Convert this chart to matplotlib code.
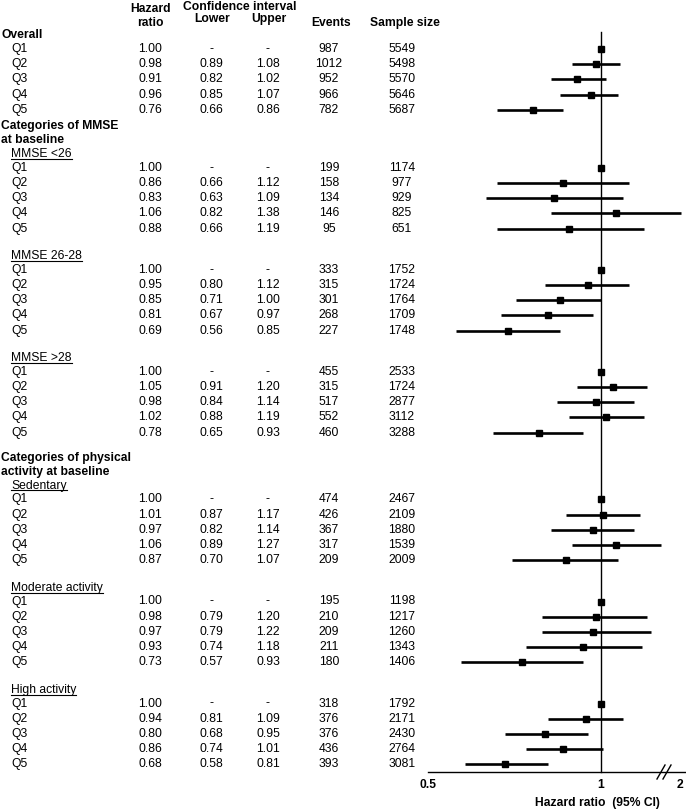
import matplotlib

matplotlib.use('Agg')
import matplotlib.pyplot as plt
import matplotlib.transforms as mtransforms

plt.rcParams['font.family'] = ['Liberation Sans', 'DejaVu Sans']
plt.rcParams['font.size'] = 8.7

# ---- data ----
quintiles = ['Q1', 'Q2', 'Q3', 'Q4', 'Q5']

group_names = ['Overall', 'MMSE <26', 'MMSE 26-28', 'MMSE >28',
               'Sedentary', 'Moderate activity', 'High activity']

section_titles = ['Overall',
                  'Categories of MMSE\nat baseline',
                  'Categories of physical\nactivity at baseline']
section_groups = [[0], [1, 2, 3], [4, 5, 6]]

hazard_ratio = [
    [1.00, 0.98, 0.91, 0.96, 0.76],
    [1.00, 0.86, 0.83, 1.06, 0.88],
    [1.00, 0.95, 0.85, 0.81, 0.69],
    [1.00, 1.05, 0.98, 1.02, 0.78],
    [1.00, 1.01, 0.97, 1.06, 0.87],
    [1.00, 0.98, 0.97, 0.93, 0.73],
    [1.00, 0.94, 0.80, 0.86, 0.68],
]
ci_lower = [
    [None, 0.89, 0.82, 0.85, 0.66],
    [None, 0.66, 0.63, 0.82, 0.66],
    [None, 0.80, 0.71, 0.67, 0.56],
    [None, 0.91, 0.84, 0.88, 0.65],
    [None, 0.87, 0.82, 0.89, 0.70],
    [None, 0.79, 0.79, 0.74, 0.57],
    [None, 0.81, 0.68, 0.74, 0.58],
]
ci_upper = [
    [None, 1.08, 1.02, 1.07, 0.86],
    [None, 1.12, 1.09, 1.38, 1.19],
    [None, 1.12, 1.00, 0.97, 0.85],
    [None, 1.20, 1.14, 1.19, 0.93],
    [None, 1.17, 1.14, 1.27, 1.07],
    [None, 1.20, 1.22, 1.18, 0.93],
    [None, 1.09, 0.95, 1.01, 0.81],
]
events = [
    [987, 1012, 952, 966, 782],
    [199, 158, 134, 146, 95],
    [333, 315, 301, 268, 227],
    [455, 315, 517, 552, 460],
    [474, 426, 367, 317, 209],
    [195, 210, 209, 211, 180],
    [318, 376, 376, 436, 393],
]
sample_size = [
    [5549, 5498, 5570, 5646, 5687],
    [1174, 977, 929, 825, 651],
    [1752, 1724, 1764, 1709, 1748],
    [2533, 1724, 2877, 3112, 3288],
    [2467, 2109, 1880, 1539, 2009],
    [1198, 1217, 1260, 1343, 1406],
    [1792, 2171, 2430, 2764, 3081],
]

x_ticks = [0.5, 1]
x_tick_labels = ['0.5', '1']
x_label = 'Hazard ratio  (95% CI)'

# ---- layout (pixels, y measured from the top) ----
W, H = 686, 811
ROW = 15.2
HEAD_TO_ROW = 13.5
BOLD_LINE = 14
GAP_SUB = 27.7      # Q5 -> next subheading
GAP_BOLD = 16.5     # Q5 -> next bold heading
GAP_EXTRA = 8.9     # extra space after a subgroup block
COL_HR, COL_LO, COL_UP, COL_EV, COL_N = 150, 211, 268, 329, 402
X_BOLD, X_INDENT = 1, 11
AXIS_LEFT, AXIS_RIGHT = 428, 686
AXIS_Y = 772
PX_PER_OCT = 173    # pixels from 0.5 to 1

fig = plt.figure(figsize=(W / 100, H / 100), dpi=100)
ax_t = fig.add_axes([0, 0, 1, 1])
ax_t.set_xlim(0, W)
ax_t.set_ylim(H, 0)
ax_t.axis('off')

ax = fig.add_axes([AXIS_LEFT / W, 0, (AXIS_RIGHT - AXIS_LEFT) / W, 1])
ax.set_xscale('log')
ax.set_xlim(0.5, 0.5 * 2 ** ((AXIS_RIGHT - AXIS_LEFT) / PX_PER_OCT))
ax.set_ylim(H, 0)
ax.patch.set_alpha(0)
for s in ['top', 'left', 'right']:
    ax.spines[s].set_visible(False)
ax.spines['bottom'].set_position(('data', AXIS_Y))
ax.spines['bottom'].set_linewidth(1.0)
ax.set_yticks([])
ax.set_xticks(x_ticks)
ax.set_xticklabels(x_tick_labels, fontweight='bold')
ax.xaxis.set_minor_locator(matplotlib.ticker.NullLocator())
ax.tick_params(axis='x', length=0, pad=5)

# column headers
hdr = dict(ha='center', va='center', fontweight='bold')
ax_t.text(151, 9, 'Hazard', **hdr)
ax_t.text(150, 22.5, 'ratio', **hdr)
ax_t.text(240, 7.5, 'Confidence interval', **hdr)
ax_t.text(212, 19, 'Lower', **hdr)
ax_t.text(269, 19, 'Upper', **hdr)
ax_t.text(331, 23, 'Events', **hdr)
ax_t.text(405, 23, 'Sample size', **hdr)

sub_texts = []
y = 35.5
prev_sub = False
for si, (title, groups) in enumerate(zip(section_titles, section_groups)):
    if si > 0:
        y += GAP_BOLD + (GAP_EXTRA if prev_sub else 0)
    lines = title.split('\n')
    for li, line in enumerate(lines):
        ax_t.text(X_BOLD, y, line, ha='left', va='center', fontweight='bold')
        if li < len(lines) - 1:
            y += BOLD_LINE
    for gi, g in enumerate(groups):
        is_sub = len(groups) > 1
        if is_sub:
            y += BOLD_LINE if gi == 0 else GAP_SUB
            sub_texts.append(ax_t.text(X_INDENT, y, group_names[g],
                                       ha='left', va='center'))
        y += HEAD_TO_ROW
        for qi, q in enumerate(quintiles):
            if qi > 0:
                y += ROW
            ax_t.text(X_INDENT, y, q, ha='left', va='center')
            lo, up = ci_lower[g][qi], ci_upper[g][qi]
            ax_t.text(COL_HR, y, f'{hazard_ratio[g][qi]:.2f}', ha='center', va='center')
            ax_t.text(COL_LO, y, '-' if lo is None else f'{lo:.2f}', ha='center', va='center')
            ax_t.text(COL_UP, y, '-' if up is None else f'{up:.2f}', ha='center', va='center')
            ax_t.text(COL_EV, y, str(events[g][qi]), ha='center', va='center')
            ax_t.text(COL_N, y, str(sample_size[g][qi]), ha='center', va='center')
            if lo is not None:
                ax.plot([lo, up], [y, y], color='black', lw=1.9,
                        solid_capstyle='butt', clip_on=False)
            ax.plot(hazard_ratio[g][qi], y, marker='s', ms=4.7,
                    color='black', clip_on=False)
        prev_sub = is_sub

# reference line at 1
ax.plot([1, 1], [32, AXIS_Y], color='black', lw=1.0)

# broken-axis end label and slashes
trans = mtransforms.blended_transform_factory(ax.transAxes, ax.transData)
ax.text((680 - AXIS_LEFT) / (AXIS_RIGHT - AXIS_LEFT), 785, '2',
        transform=trans, ha='center', va='center', fontweight='bold')
for bx in (661, 667):
    ax_t.plot([bx - 4, bx + 4], [779, 765], color='black', lw=1.0)

ax_t.text(597, 803, x_label, ha='center', va='center', fontweight='bold')

# underline subgroup labels
fig.canvas.draw()
renderer = fig.canvas.get_renderer()
for t in sub_texts:
    bb = t.get_window_extent(renderer)
    yy = H - bb.y0 - 1.5
    ax_t.plot([bb.x0, bb.x1], [yy, yy], color='black', lw=0.8)

fig.savefig('out.png', dpi=100)
